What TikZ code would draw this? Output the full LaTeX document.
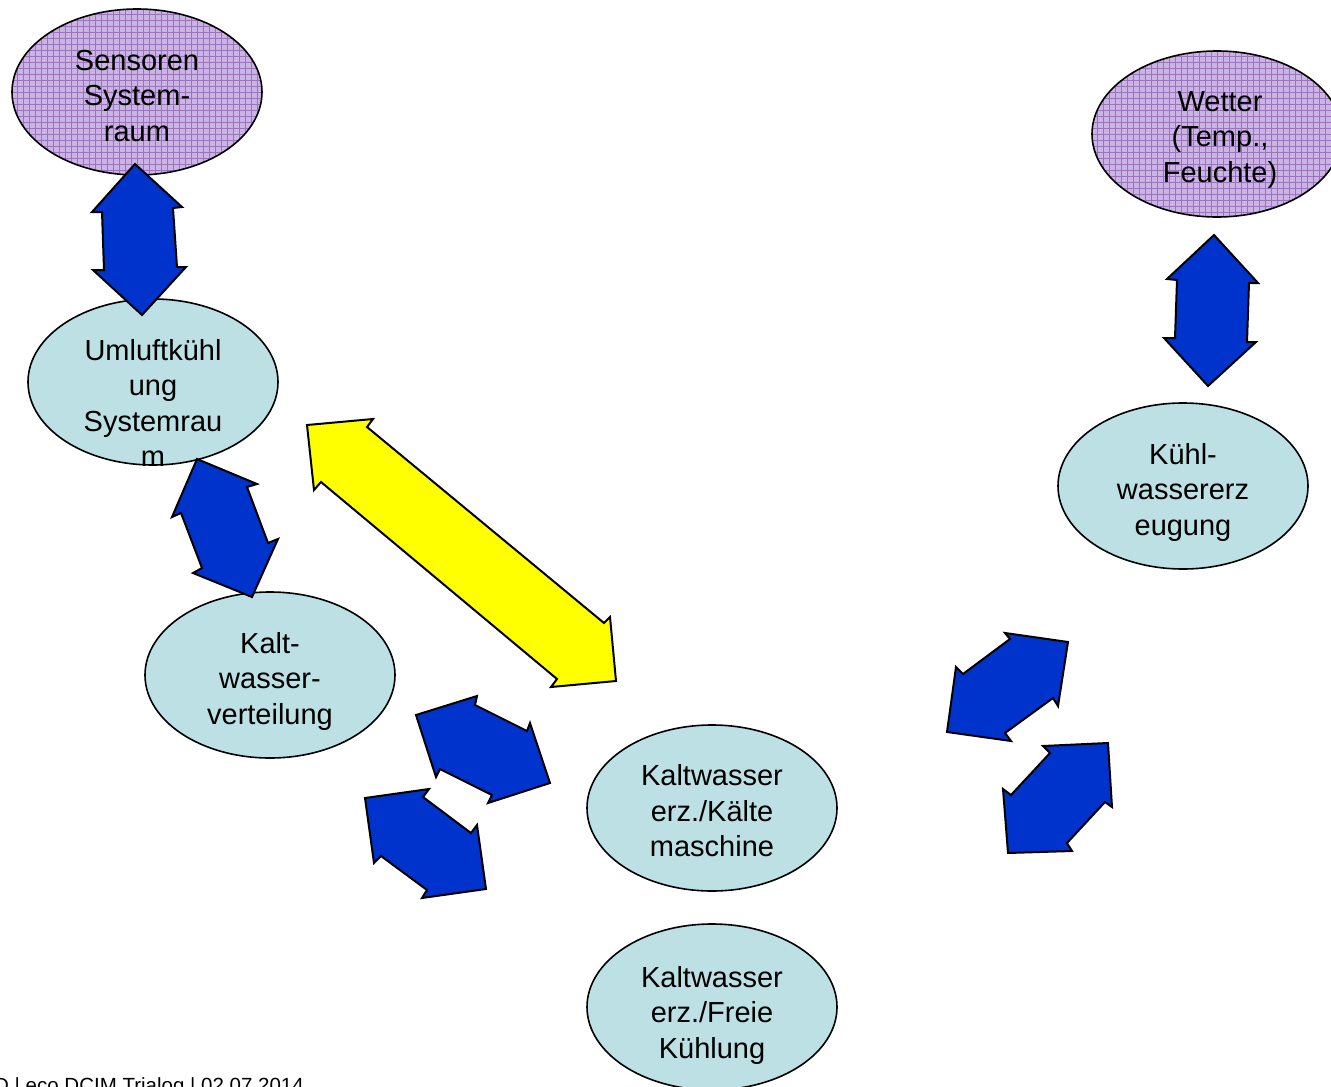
\documentclass[tikz,border=0pt]{standalone}
\usepackage{fontspec}
\setmainfont{Liberation Sans}
\usetikzlibrary{shapes.geometric}
\definecolor{bubblefill}{RGB}{188,224,228}
\definecolor{purplefill}{RGB}{200,182,224}
\definecolor{purplegrid}{RGB}{158,112,196}
\definecolor{arrowblue}{RGB}{0,51,204}
\definecolor{arrowyellow}{RGB}{255,255,0}
\begin{document}
\begin{tikzpicture}[x=1pt,y=-1pt,
  label/.style={font=\fontsize{29}{35.5}\selectfont, align=center, inner sep=0pt},
  bubble/.style={ellipse, draw=black, line width=1.6pt, fill=bubblefill,
    minimum width=250pt, minimum height=166pt, inner sep=0pt},
  gridbubble/.style={bubble, fill=purplefill,
    path picture={
      \foreach \k in {-132,-126,...,132}{
        \draw[purplegrid, line width=0.8pt]
          ([xshift=\k pt]path picture bounding box.north) --
          ([xshift=\k pt]path picture bounding box.south);
        \draw[purplegrid, line width=0.8pt]
          ([yshift=\k pt]path picture bounding box.west) --
          ([yshift=\k pt]path picture bounding box.east);
      }}},
  blockarrow/.style={draw=black, line width=2pt, line join=miter, fill=arrowblue},
  yellowarrow/.style={blockarrow, fill=arrowyellow}]
\useasboundingbox (0,0) rectangle (1331,1087);
\clip (0,0) rectangle (1331,1087);

% ellipses
\node[gridbubble] (sens) at (137,92) {};
\node[gridbubble] (wett) at (1217,134) {};
\node[bubble] (uml) at (153,382) {};
\node[bubble] (kvert) at (270,675) {};
\node[bubble] (kwe) at (1183,486) {};
\node[bubble] (kkm) at (712,808) {};
\node[bubble] (kfk) at (712,1007) {};

% labels
\node[label] (tsens) at (137,96) {Sensoren\\System-\\raum};
\node[label] (twett) at (1220,140) {Wetter\\(Temp.,\\Feuchte)};
\node[label] (tuml) at (153,403) {Umluftkühl\\ung\\Systemrau\\m};
\node[label] (tkvert) at (270,681) {Kalt-\\wasser-\\verteilung};
\node[label] (tkwe) at (1183,492) {Kühl-\\wassererz\\eugung};
\node[label] (tkkm) at (712,811) {Kaltwasser\\erz./Kälte\\maschine};
\node[label] (tkfk) at (712,1015) {Kaltwasser\\erz./Freie\\Kühlung};

% block arrows
\draw[blockarrow] (135,164) -- (182,207) -- (173,208) -- (177,267) -- (186,267)
  -- (142,315) -- (93,270) -- (104,270) -- (102,212) -- (92,212) -- cycle;
\draw[blockarrow] (1214,235) -- (1258,283) -- (1249,283) -- (1247,342) -- (1256,342)
  -- (1208,386) -- (1164,338) -- (1175,338) -- (1177,280) -- (1167,279) -- cycle;
\draw[blockarrow] (197,459) -- (257,484) -- (247,487) -- (268,543) -- (278,539)
  -- (252,597) -- (193,573) -- (202,568) -- (181,513) -- (172,517) -- cycle;
\draw[yellowarrow] (307,425) -- (373,419) -- (367,427) -- (604,623) -- (610,617)
  -- (616,681) -- (551,687) -- (557,679) -- (321,482) -- (314,490) -- cycle;
\draw[blockarrow] (416,715) -- (477,696) -- (475,705) -- (527,731) -- (530,723)
  -- (550,783) -- (488,803) -- (492,795) -- (440,769) -- (436,777) -- cycle;
\draw[blockarrow] (365,798) -- (429,789) -- (423,797) -- (471,833) -- (477,825)
  -- (486,889) -- (422,898) -- (427,890) -- (381,856) -- (374,863) -- cycle;
\draw[blockarrow] (1005,633) -- (1068,642) -- (1058,706) -- (1053,698) -- (1005,733)
  -- (1011,741) -- (947,732) -- (956,667) -- (963,674) -- (1010,639) -- cycle;
\draw[blockarrow] (1043,746) -- (1108,743) -- (1112,807) -- (1105,802) -- (1067,843)
  -- (1072,851) -- (1008,853) -- (1003,789) -- (1011,795) -- (1050,753) -- cycle;

% footer
\node[anchor=base west, font=\fontsize{20.5}{24}\selectfont, inner sep=0pt] (foot)
  at (-6,1092) {D | eco DCIM Trialog | 02.07.2014};
\end{tikzpicture}
\end{document}
